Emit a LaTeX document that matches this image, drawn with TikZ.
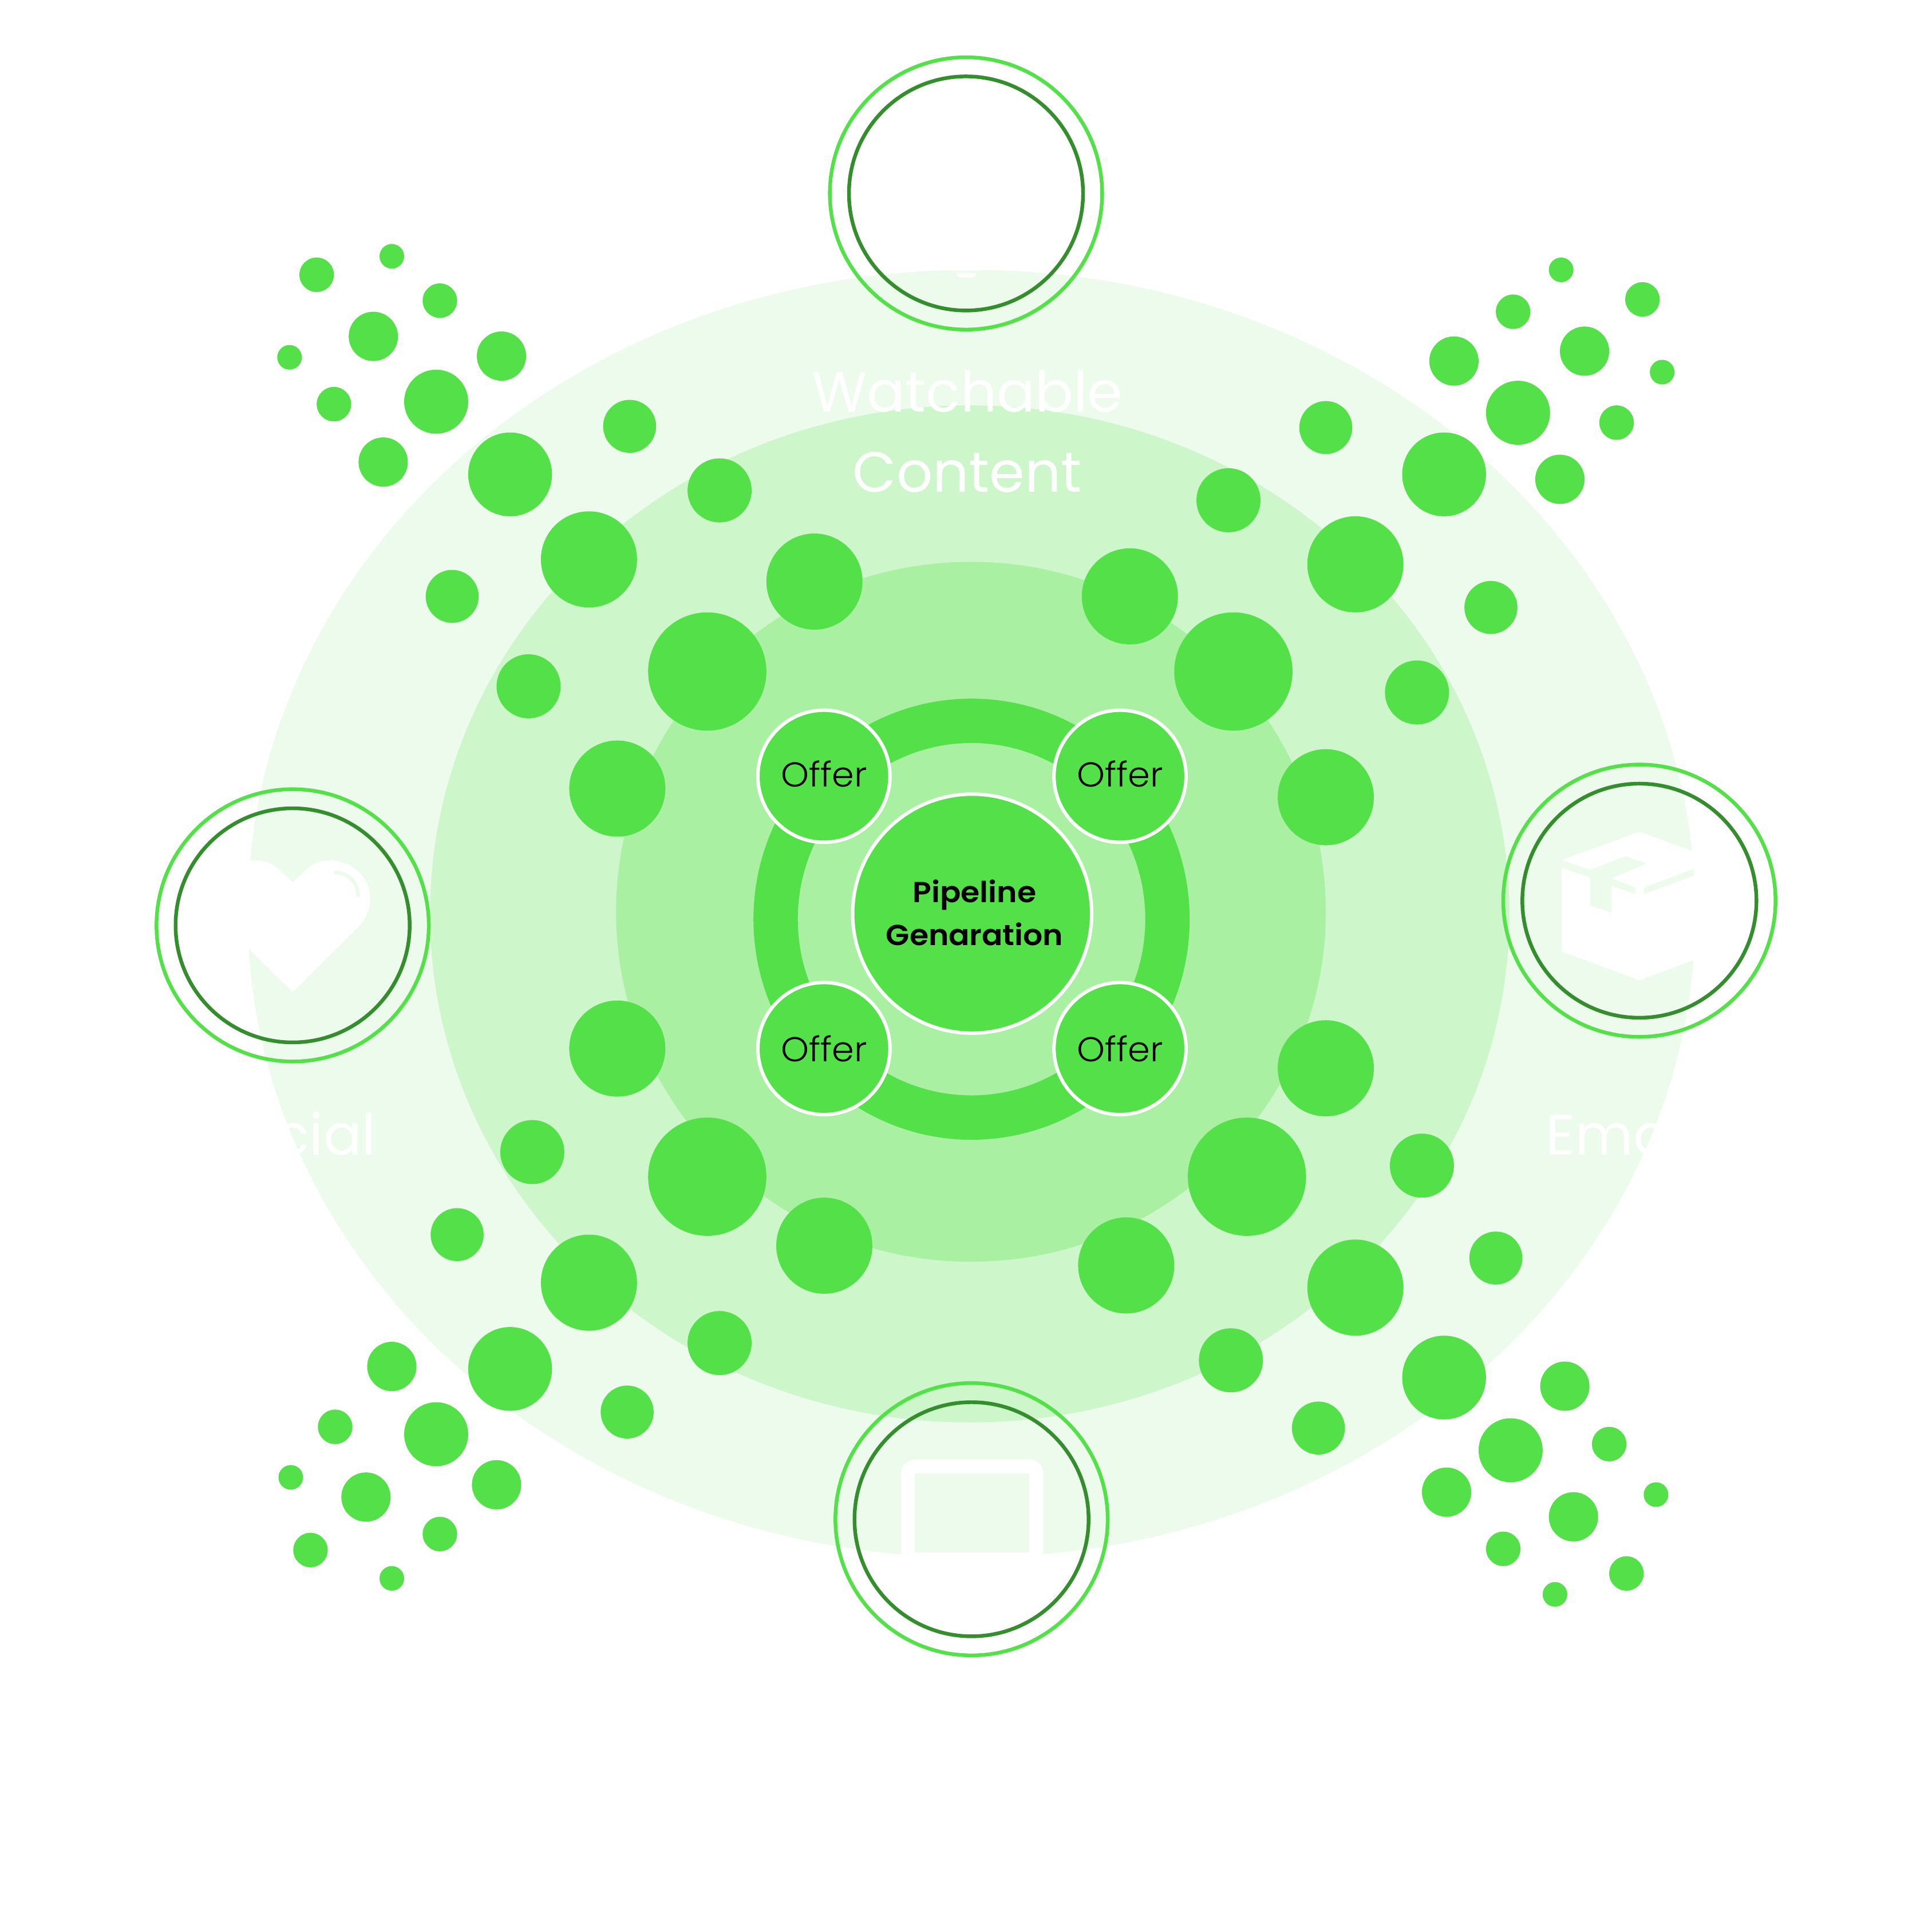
\documentclass[tikz,border=0pt]{standalone}
\usepackage{fontspec}
\setmainfont{Poppins}
\newfontfamily\lightfont[FakeStretch=1.03]{Poppins Light}
\newfontfamily\semifont[FakeStretch=1.06]{Poppins SemiBold}
\definecolor{leaf}{RGB}{83,224,72}
\definecolor{forest}{RGB}{53,142,45}
\definecolor{paleA}{RGB}{236,251,235}
\definecolor{paleB}{RGB}{205,246,202}
\definecolor{paleC}{RGB}{169,240,162}
\tikzset{
  offerdot/.style={circle, fill=leaf, draw=white, line width=2.8pt, minimum size=107.2pt, inner sep=0pt, font=\lightfont\fontsize{28}{35}\selectfont},
  hubdot/.style={circle, fill=leaf, draw=white, line width=2.8pt, minimum size=194pt, inner sep=0pt, align=center, text depth=2pt, font=\semifont\fontsize{23.5}{35}\selectfont},
  bigword/.style={text=white, align=center, font=\fontsize{46}{65}\selectfont},
  outerring/.style={draw=leaf, line width=3pt},
  innerring/.style={draw=forest, line width=3pt}
}

\begin{document}
\begin{tikzpicture}[x=1pt, y=-1pt]
    \useasboundingbox (0,0) rectangle (1568,1568);
    % Background ellipses
    \fill[paleA] (788.5,741.5) ellipse (587.5 and 522.5);
    \fill[paleB] (787,741.7) ellipse (438 and 412.7);
    \fill[paleC] (788,740) ellipse (288 and 284);
    % Ring behind the offers
    \draw[leaf, line width=36pt] (788.5,746) ellipse (159 and 161);
    % Scattered dots, top left
    \foreach \x/\y/\r in {257/223/14, 318/208/10, 357/244/14, 303/273/20, 407/289/20, 235/290/10,
        271/328/14, 354/326/26, 311/375/20, 414/385/34, 511/346/21.5, 478/454/39, 367/484/21.5,
        584/398/26, 429/557/26, 574/545/48, 661/472/39, 501/640/39}
        \fill[leaf] (\x,\y) circle (\r);
    % Scattered dots, top right
    \foreach \x/\y/\r in {1267/219/10, 1228/253/14, 1333/243/14, 1286/285/20, 1180/293/20, 1349/302/10,
        1312/343/14, 1232/335/26, 1266/389/20, 1172/385/34, 1076/347/21.5, 1100/458/39, 1210/493/21.5,
        997/406/26, 1150/562/26, 1001/545/48, 917/484/39, 1076/647/39}
        \fill[leaf] (\x,\y) circle (\r);
    % Scattered dots, bottom left
    \foreach \x/\y/\r in {318/1109/20, 272/1158/14, 354/1164/26, 403/1205/20, 236/1199/10, 297/1215/20,
        357/1245/14, 252/1258/14, 318/1281/10, 414/1111/34, 509/1146/21.5, 478/1041/39, 371/1002/21.5,
        584/1090/26, 432/935/26, 574/955/48, 669/1011/39, 501/851/39}
        \fill[leaf] (\x,\y) circle (\r);
    % Scattered dots, bottom right
    \foreach \x/\y/\r in {1270/1125/20, 1306/1172/14, 1226/1177/26, 1174/1211/20, 1344/1213/10, 1277/1231/20,
        1220/1257/14, 1320/1277/14, 1262/1294/10, 1172/1118/34, 1070/1159/21.5, 1100/1045/39, 1214/1021/21.5,
        999/1104/26, 1154/946/26, 1012/955/48, 914/1027/39, 1076/867/39}
        \fill[leaf] (\x,\y) circle (\r);
    % Hub and offers
    \node[hubdot] (hub) at (789,741.5) {\hspace*{4pt}Pipeline\\\hspace*{4pt}Genaration};
    \node[offerdot, text depth=4pt] (offerTL) at (668.7,630) {Offer};
    \node[offerdot, text depth=4pt] (offerTR) at (909,630) {Offer};
    \node[offerdot] (offerBL) at (668.7,851) {Offer};
    \node[offerdot] (offerBR) at (909,851) {Offer};
    % White icons
    \fill[white] (772,180) rectangle (796,219.8);
    \fill[white] (775.6,221.5) -- (792.7,221.5) .. controls (792,224) and (790,225.4) .. (787,225.4)
        -- (781,225.4) .. controls (778,225.4) and (776.3,224) .. (775.6,221.5) -- cycle;
    \fill[white] (237.6,716) -- (247.4,706.7) .. controls (253,701) and (260,698.4) .. (267.8,698.4)
        .. controls (286,698.4) and (300.4,712) .. (300.4,729.5) .. controls (300.4,738) and (297,745) .. (291.9,751.3)
        -- (239.4,803.6) -- (237.6,804.9) -- (235.8,803.6) -- (183.3,751.3)
        .. controls (178.2,745) and (174.8,738) .. (174.8,729.5) .. controls (174.8,712) and (189,698.4) .. (207.4,698.4)
        .. controls (215,698.4) and (222,701) .. (227.8,706.7) -- cycle;
    \draw[paleA, line width=3pt, line cap=round] (272.3,708.2) .. controls (282,708.2) and (290.6,716) .. (290.6,726.4);
    \fill[white] (1267.4,698) -- (1330.5,675) -- (1393.5,698) -- (1393.5,772.2) -- (1334.1,794.3) -- (1334.1,795.4)
        -- (1327.1,795.4) -- (1327.1,794.3) -- (1267.4,772.2) -- cycle;
    \begin{scope}
        \clip (788.5,741.5) ellipse (587.5 and 522.5);
        \fill[paleA] (1267.4,698) -- (1290.6,706) -- (1319.2,694.8) -- (1336.3,700.8) -- (1308,712.8)
            -- (1327.1,720.4) -- (1327.1,725.6) -- (1308,718.9) -- (1308,740.9) -- (1290.6,734.9) -- (1290.6,712.1)
            -- (1267.4,704.2) -- cycle;
        \fill[paleA] (1334.1,720.4) -- (1393.5,698) -- (1393.5,703.8) -- (1334.1,725.6) -- cycle;
    \end{scope}
    \fill[white, rounded corners=11.6pt] (731.3,1300) -- (731.3,1184.4) -- (846.8,1184.4) -- (846.8,1300) -- cycle;
    \fill[paleA] (742.5,1195.9) rectangle (835.3,1259.9);
    % Rings round the icons
    \foreach \x/\y in {784/157, 237.5/751, 1330.5/731, 788.5/1233} {
        \draw[outerring] (\x,\y) circle (110.5);
        \draw[innerring] (\x,\y) circle (95);
    }
    % Words in white
    \node[bigword] (watchable) at (785,350) {Watchable\\Content};
    \node[bigword] (social) at (236,920) {Social};
    \node[bigword] (email) at (1317,920) {Email};
\end{tikzpicture}
\end{document}
